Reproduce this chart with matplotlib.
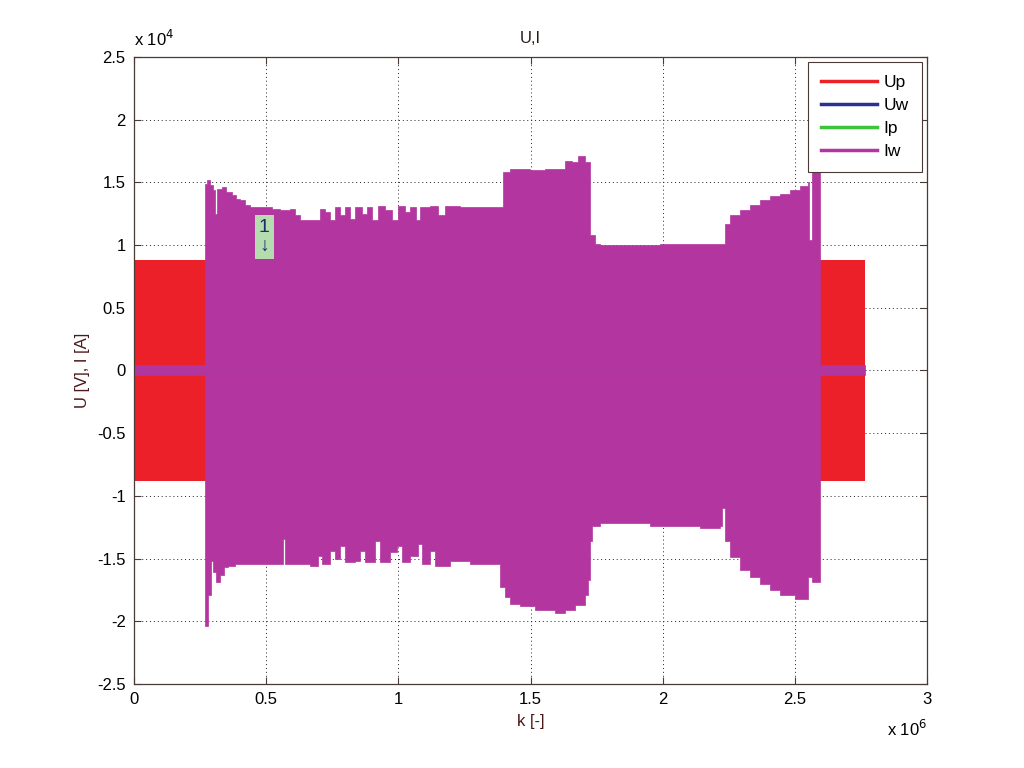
import numpy as np
import matplotlib
matplotlib.use('Agg')
import matplotlib.pyplot as plt
from matplotlib.ticker import FuncFormatter

plt.rcParams['font.family'] = ['Liberation Sans', 'DejaVu Sans']

# k in 1e6 samples, amplitude in 1e4 (V or A)
k_end = 2.766
up_amp = 0.88          # Up envelope, constant
uw_amp = 0.03
ip_amp = 0.03

# Iw upper envelope (value holds until next k)
iw_up_k = [0.0, 0.269, 0.276, 0.288, 0.299, 0.306, 0.314, 0.333, 0.348, 0.371, 0.386,
           0.401, 0.420, 0.439, 0.477, 0.522, 0.552, 0.590, 0.609, 0.628, 0.685, 0.704, 0.723,
           0.742, 0.760, 0.779, 0.798, 0.817, 0.836, 0.863, 0.882, 0.900, 0.923, 0.950, 0.976,
           0.999, 1.025, 1.044, 1.067, 1.082, 1.120, 1.150, 1.177, 1.233, 1.309, 1.385, 1.396,
           1.423, 1.498, 1.555, 1.631, 1.657, 1.680, 1.706, 1.725, 1.744, 1.763, 1.914, 1.990,
           2.104, 2.225, 2.236, 2.255, 2.293, 2.331, 2.369, 2.406, 2.444, 2.482, 2.520, 2.550,
           2.554, 2.561, 2.565, 2.577, 2.592, 2.596, 2.766]
iw_up_v = [0.04, 1.49, 1.52, 1.48, 1.44, 1.25, 1.45, 1.46, 1.42, 1.40, 1.37,
           1.36, 1.32, 1.30, 1.30, 1.29, 1.28, 1.29, 1.24, 1.20, 1.20, 1.29, 1.26,
           1.20, 1.30, 1.24, 1.30, 1.21, 1.30, 1.25, 1.30, 1.20, 1.31, 1.28, 1.20,
           1.31, 1.26, 1.30, 1.20, 1.30, 1.31, 1.24, 1.31, 1.30, 1.30, 1.30, 1.58,
           1.61, 1.60, 1.61, 1.67, 1.66, 1.71, 1.66, 1.08, 1.01, 1.00, 1.00, 1.01,
           1.01, 1.01, 1.17, 1.24, 1.28, 1.32, 1.36, 1.39, 1.41, 1.44, 1.47, 1.50,
           1.04, 1.04, 1.60, 2.15, 2.15, 0.04, 0.04]

# Iw lower envelope (value holds until next k)
iw_lo_k = [0.0, 0.269, 0.280, 0.291, 0.299, 0.310, 0.325, 0.341, 0.356, 0.382,
           0.420, 0.515, 0.564, 0.571, 0.666, 0.696, 0.711, 0.742, 0.760, 0.779, 0.798, 0.836,
           0.855, 0.874, 0.912, 0.931, 0.969, 0.995, 1.014, 1.044, 1.075, 1.090, 1.120, 1.139,
           1.196, 1.271, 1.377, 1.385, 1.404, 1.423, 1.460, 1.517, 1.593, 1.631, 1.669, 1.706,
           1.718, 1.725, 1.733, 1.763, 1.952, 2.141, 2.217, 2.225, 2.236, 2.255, 2.293, 2.331,
           2.369, 2.406, 2.444, 2.501, 2.543, 2.550, 2.565, 2.592, 2.596, 2.766]
iw_lo_v = [-0.04, -2.04, -1.79, -1.52, -1.61, -1.69, -1.63, -1.57, -1.56, -1.54,
           -1.54, -1.54, -1.34, -1.54, -1.56, -1.48, -1.54, -1.44, -1.50, -1.40, -1.53, -1.52,
           -1.44, -1.53, -1.36, -1.53, -1.45, -1.40, -1.53, -1.48, -1.38, -1.54, -1.44, -1.56,
           -1.52, -1.54, -1.54, -1.73, -1.81, -1.86, -1.88, -1.91, -1.93, -1.91, -1.87, -1.79,
           -1.67, -1.36, -1.24, -1.22, -1.24, -1.26, -1.24, -1.10, -1.36, -1.49, -1.59, -1.65,
           -1.70, -1.75, -1.79, -1.82, -1.82, -1.65, -1.69, -1.69, -0.04, -0.04]

c_up = '#ec2028'
c_uw = '#2a3193'
c_ip = '#3cc43c'
c_iw = '#b3359f'
c_axis = '#4a3a36'

fig = plt.figure(figsize=(10.24, 7.68), dpi=100)
ax = fig.add_axes([0.1309, 0.1094, 0.7744, 0.8164])

def band(kk, amp):
    kk = np.array(kk) * 1e6
    return kk, np.full(len(kk), amp * 1e4)

kx, a = band([0.0, k_end], up_amp)
ax.fill_between(kx, -a, a, color=c_up, lw=0)
kx, a = band([0.0, k_end], uw_amp)
ax.fill_between(kx, -a, a, color=c_uw, lw=0)
kx, a = band([0.0, k_end], ip_amp)
ax.fill_between(kx, -a, a, color=c_ip, lw=0)

# Iw: upper and lower halves, stepwise envelope
ku = np.array(iw_up_k) * 1e6
vu = np.array(iw_up_v) * 1e4
kl = np.array(iw_lo_k) * 1e6
vl = np.array(iw_lo_v) * 1e4
ax.fill_between(ku, 0, vu, step='post', color=c_iw, lw=0.5, ec=c_iw)
ax.fill_between(kl, vl, 0, step='post', color=c_iw, lw=0.5, ec=c_iw)

# proxy lines for the legend
handles = [plt.Line2D([], [], color=c, lw=2.5) for c in (c_up, c_uw, c_ip, c_iw)]
leg = ax.legend(handles, ['Up', 'Uw', 'Ip', 'Iw'], loc='upper right', fontsize=12.5,
                handlelength=3.2, handletextpad=0.4, labelspacing=0.45,
                borderaxespad=0.3, borderpad=0.75, fancybox=False, framealpha=1)
leg.get_frame().set_edgecolor(c_axis)
leg.get_frame().set_linewidth(0.8)

ax.text(0.492e6, 1.065e4, '1\n\u2193', ha='center', va='center', fontsize=14,
        color='#1f2a6a', linespacing=1.1,
        bbox=dict(facecolor='#b4dcae', edgecolor='none', pad=3))

ax.set_xlim(0, 3e6)
ax.set_ylim(-2.5e4, 2.5e4)
ax.set_xticks(np.arange(0, 3.01e6, 0.5e6))
ax.set_yticks(np.arange(-2.5e4, 2.51e4, 0.5e4))
ax.xaxis.set_major_formatter(FuncFormatter(lambda v, p: f'{v / 1e6:g}'))
ax.yaxis.set_major_formatter(FuncFormatter(lambda v, p: f'{v / 1e4:g}'))
ax.grid(True, color='#222222', linestyle=(0, (1, 3)), linewidth=0.7)
ax.set_axisbelow(True)
ax.tick_params(direction='in', length=5, top=True, right=True, labelsize=12,
               color=c_axis, pad=6)
for s in ax.spines.values():
    s.set_color(c_axis)
    s.set_linewidth(0.9)

ax.text(0.0, 1.012, r'x 10$^4$', transform=ax.transAxes, fontsize=12, ha='left', va='bottom')
ax.text(1.0, -0.056, r'x 10$^6$', transform=ax.transAxes, fontsize=12, ha='right', va='top')

ax.set_title('U,I', fontsize=12, color='#2a1a18', pad=10)
ax.set_xlabel('k [-]', fontsize=12, color='#4a1818', labelpad=5)
ax.set_ylabel('U [V], I [A]', fontsize=12, color='#4a1818', labelpad=5)

fig.savefig('out.png', dpi=100)
